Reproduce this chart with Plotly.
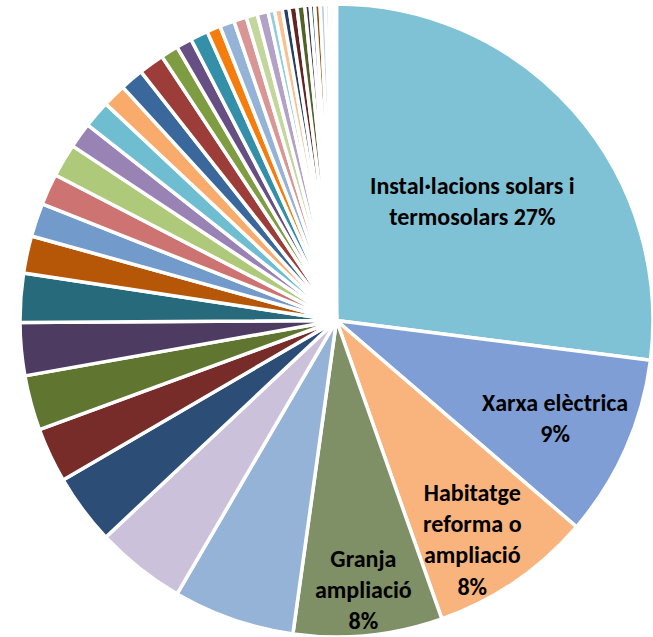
import math
import plotly.graph_objects as go

categories = [
    "Instal·lacions solars i termosolars", "Xarxa elèctrica", "Habitatge reforma o ampliació",
    "Granja ampliació", "Categoria 5", "Categoria 6", "Categoria 7", "Categoria 8", "Categoria 9",
    "Categoria 10", "Categoria 11", "Categoria 12", "Categoria 13", "Categoria 14", "Categoria 15",
    "Categoria 16", "Categoria 17", "Categoria 18", "Categoria 19", "Categoria 20", "Categoria 21",
    "Categoria 22", "Categoria 23", "Categoria 24", "Categoria 25", "Categoria 26", "Categoria 27",
    "Categoria 28", "Categoria 29", "Categoria 30", "Categoria 31", "Categoria 32", "Categoria 33",
    "Categoria 34", "Categoria 35", "Categoria 36", "Categoria 37", "Categoria 38", "Categoria 39",
    "Categoria 40", "Categoria 41",
]

values = [
    27.0, 9.3, 8.3, 7.6, 6.2, 4.6, 3.6, 2.8, 2.8, 2.7, 2.5, 1.9, 1.7, 1.6, 1.7, 1.3, 1.4,
    1.2, 1.2, 1.3, 0.9, 0.8, 0.9, 0.7, 0.75, 0.65, 0.57, 0.56, 0.33, 0.39, 0.35, 0.4, 0.4,
    0.27, 0.23, 0.27, 0.27, 0.2, 0.15, 0.12, 0.09,
]

label_text = [
    "Instal·lacions solars i<br>termosolars 27%",
    "Xarxa elèctrica<br>9%",
    "Habitatge<br>reforma o<br>ampliació<br>8%",
    "Granja<br>ampliació<br>8%",
]

colors = [
    "#80C2D5", "#7F9ED6", "#F9B47D", "#7F8F66", "#95B3D7", "#CCC1DA", "#2C4D75", "#772C2A",
    "#5F7530", "#4D3B62", "#276A7C", "#B65708", "#729ACA", "#CD7371", "#AFC97A", "#9983B5",
    "#6FBDD1", "#F9AB6B", "#3A679C", "#9C3D3A", "#7E9D42", "#664F83", "#3490A9", "#F57D0E",
    "#95B3D7", "#D99694", "#C3D69B", "#B3A2C7", "#93CDDD", "#FAC090", "#254061", "#632523",
    "#4F6228", "#403151", "#215968", "#984807", "#B9CDE5", "#E6B9B8", "#D7E4BD", "#CCC1DA",
    "#B7DEE8",
]

W, H = 653, 637
DOM_X = [0.0306, 1.0]
DOM_Y = [0.0, 0.9937]
LABEL_RADIUS = [0.573, 0.757, 0.815, 0.853]   # fraction of pie radius where each label sits
LABEL_TURN = [0.0, 0.0, 2.5, 0.0]             # small angular nudge (degrees) off the bisector
FONT = "Carlito, Calibri, 'Liberation Sans Narrow', 'Open Sans', sans-serif"

fig = go.Figure(go.Pie(
    labels=categories,
    values=values,
    textinfo="none",
    sort=False,
    direction="clockwise",
    rotation=0,
    marker=dict(colors=colors, line=dict(color="white", width=3.5)),
    domain=dict(x=DOM_X, y=DOM_Y),
    showlegend=False,
))

# place data labels along each slice's bisector
total = sum(values)
cx = (DOM_X[0] + DOM_X[1]) / 2
cy = (DOM_Y[0] + DOM_Y[1]) / 2
radius_px = min((DOM_X[1] - DOM_X[0]) * W, (DOM_Y[1] - DOM_Y[0]) * H) / 2
cum = 0.0
for i, txt in enumerate(label_text):
    mid = (cum + values[i] / 2) / total * 2 * math.pi + math.radians(LABEL_TURN[i])
    cum += values[i]
    r = LABEL_RADIUS[i] * radius_px
    fig.add_annotation(
        x=cx + r * math.sin(mid) / W,
        y=cy + r * math.cos(mid) / H,
        xref="paper", yref="paper",
        text=txt, showarrow=False, align="center",
        xanchor="center", yanchor="middle",
        font=dict(family=FONT, size=24, color="black", weight="bold"),
    )

fig.update_layout(
    width=W, height=H,
    margin=dict(l=0, r=0, t=0, b=0),
    paper_bgcolor="white",
    plot_bgcolor="white",
)

fig.write_html("out.html", config={"displayModeBar": False},
               post_script="document.body.style.margin='0';")
